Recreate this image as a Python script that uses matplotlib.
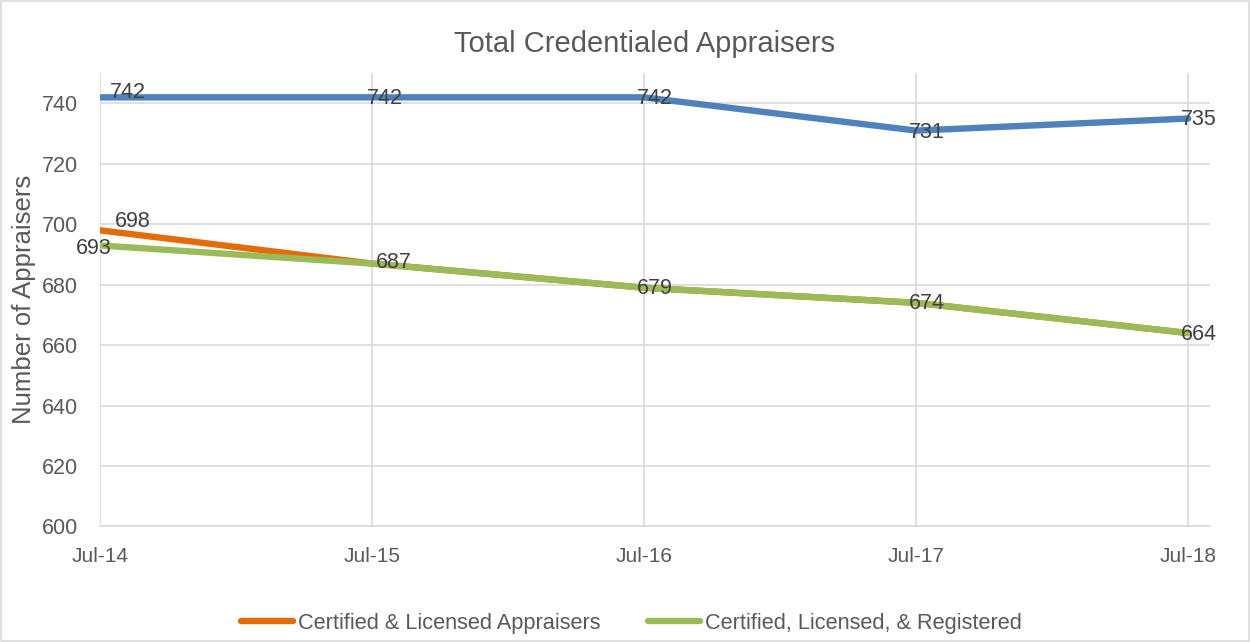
import matplotlib.pyplot as plt
import numpy as np

plt.rcParams["font.family"] = ["Liberation Sans", "DejaVu Sans"]

# data
dates = ["Jul-14", "Jul-15", "Jul-16", "Jul-17", "Jul-18"]
total_all = [742, 742, 742, 731, 735]
cert_lic = [698, 687, 679, 674, 664]
cert_lic_reg = [693, 687, 679, 674, 664]

text_color = "#595959"
grid_color = "#d9d9d9"

fig = plt.figure(figsize=(12.5, 6.42), dpi=100)
ax = fig.add_axes([0.08, 0.18, 0.888, 0.706])

x = np.arange(len(dates))
ax.plot(x, total_all, color="#4F81BD", lw=4.6, solid_capstyle="round", zorder=3)
ax.plot(x, cert_lic, color="#E36C09", lw=4.6, solid_capstyle="round",
        label="Certified & Licensed Appraisers", zorder=3)
ax.plot(x, cert_lic_reg, color="#9BBB59", lw=4.6, solid_capstyle="round",
        label="Certified, Licensed, & Registered", zorder=4)


# data labels (offsets in pixels)
def add_labels(values, offsets):
    for xi, v, (dx, dy) in zip(x, values, offsets):
        ax.annotate(str(v), (xi, v), xytext=(dx, dy), textcoords="offset pixels",
                    ha="center", va="center", fontsize=15.5, color="#404040", zorder=5)


add_labels(total_all, [(28, 5), (13, -1), (11, -1), (11, -2), (11, -1)])
add_labels(cert_lic, [(33, 9), (22, 1), (11, -1), (11, -1), (11, -1)])
add_labels(cert_lic_reg[:1], [(-6, -3)])

ax.set_xlim(0, 4.08)
ax.set_ylim(600, 750)
ax.set_yticks(np.arange(600, 741, 20))
ax.set_xticks(x)
ax.set_xticklabels(dates)
ax.grid(True, color=grid_color, lw=1.2)
ax.set_axisbelow(True)
for s in ["top", "right", "left"]:
    ax.spines[s].set_visible(False)
ax.spines["bottom"].set_color(grid_color)
ax.spines["bottom"].set_linewidth(1.2)
ax.tick_params(length=0, labelsize=15.5, colors=text_color)
ax.tick_params(axis="x", labelsize=15, pad=15)
ax.tick_params(axis="y", pad=16)

ax.set_ylabel("Number of Appraisers", fontsize=18.5, color=text_color, labelpad=4)
fig.text(0.516, 0.931, "Total Credentialed Appraisers", ha="center", va="center",
         fontsize=21, color=text_color)

leg = fig.legend(loc="center", bbox_to_anchor=(0.505, 0.029), ncol=2, frameon=False,
                 fontsize=15.7, labelcolor=text_color, handlelength=2.4,
                 handletextpad=0.2, columnspacing=2.2)

# outer border
fig.patches.append(plt.Rectangle((0.001, 0.001), 0.998, 0.997, transform=fig.transFigure,
                                 fill=False, edgecolor="#d9d9d9", lw=1.2))

fig.savefig("out.png", dpi=100)
